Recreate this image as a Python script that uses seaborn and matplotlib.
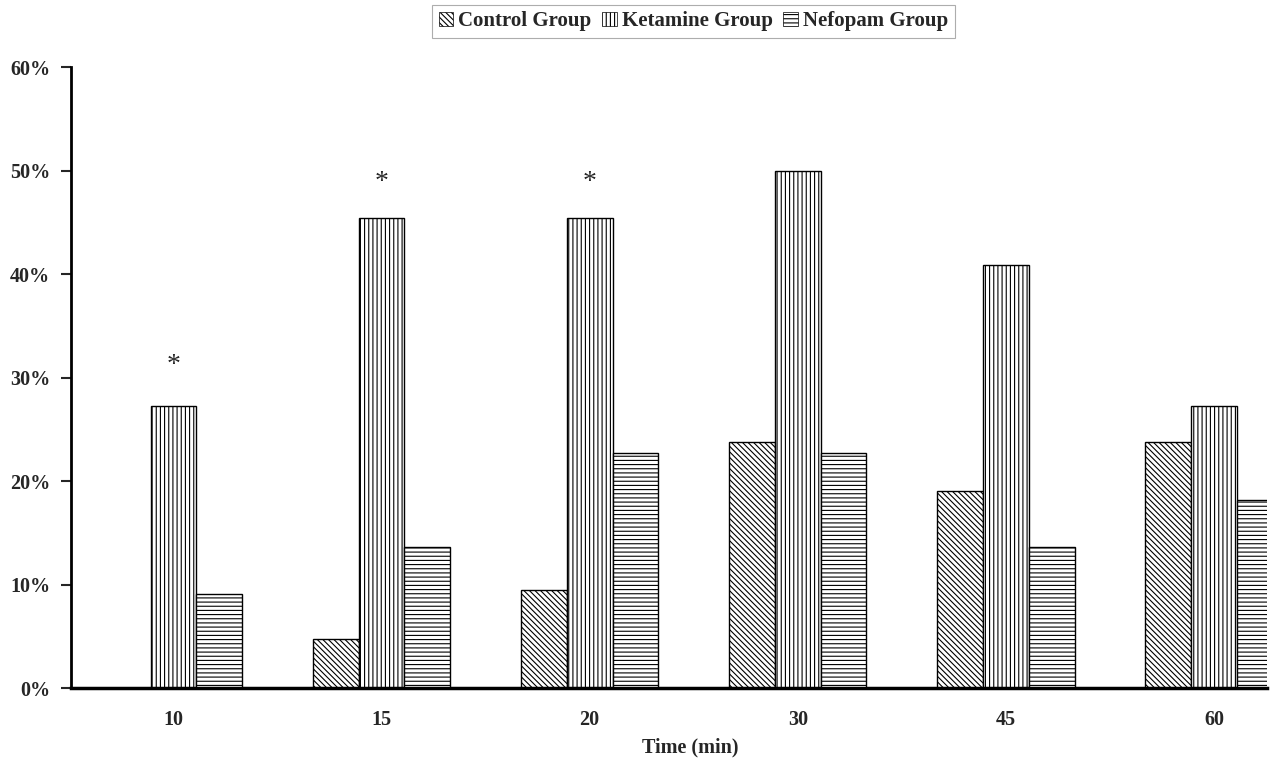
import pandas as pd
import seaborn as sns
import matplotlib.pyplot as plt
from matplotlib.ticker import PercentFormatter
from matplotlib.patches import Patch

# values (percent of patients)
times = ["10", "15", "20", "30", "45", "60"]
control = [0.0, 4.76, 9.52, 23.81, 19.05, 23.81]
ketamine = [27.27, 45.45, 45.45, 50.0, 40.91, 27.27]
nefopam = [9.09, 13.64, 22.73, 22.73, 13.64, 18.18]
groups = ["Control Group", "Ketamine Group", "Nefopam Group"]

# significance marks over the ketamine bars
star_times = ["10", "15", "20"]
star_heights = [31.2, 48.8, 48.8]

df = pd.DataFrame({
    "time": times * 3,
    "value": control + ketamine + nefopam,
    "group": [g for g in groups for _ in times],
})

sns.set_style("white")
plt.rcParams["font.family"] = ["Liberation Serif", "DejaVu Serif"]
plt.rcParams["font.weight"] = "bold"
plt.rcParams["hatch.linewidth"] = 0.8

fig = plt.figure(figsize=(12.77, 7.62), dpi=100)
ax = fig.add_axes([0.0556, 0.097, 0.9366, 0.815])

sns.barplot(data=df, x="time", y="value", hue="group", order=times,
            hue_order=groups, palette=["white"] * 3, width=0.66,
            edgecolor="black", linewidth=1.0, ax=ax, legend=False)

hatches = ["\\\\\\\\\\\\", "||||", "----"]
for cont, h in zip(ax.containers, hatches):
    for bar in cont:
        bar.set_hatch(h)
        bar.set_facecolor("white")
        bar.set_edgecolor("black")

for t, y in zip(star_times, star_heights):
    ax.text(times.index(t), y, "*", ha="center", va="center",
            fontsize=20, fontweight="normal")

ax.set_ylim(0, 60)
ax.set_xlim(-0.4925, 5.255)
ax.set_yticks(range(0, 61, 10))
ax.yaxis.set_major_formatter(PercentFormatter(decimals=0))
ax.tick_params(axis="y", left=True, length=7, width=1.5, labelsize=14.5, pad=8)
ax.tick_params(axis="x", bottom=False, labelsize=14.5, pad=12)
for lab in ax.get_xticklabels() + ax.get_yticklabels():
    lab.set_fontweight("bold")
ax.set_ylabel("")
ax.set_xlabel("Time (min)", fontsize=14.5, fontweight="bold")
ax.xaxis.set_label_coords(0.518, -0.08)

sns.despine(ax=ax)
ax.spines["left"].set_linewidth(2)
ax.spines["bottom"].set_linewidth(2.5)
ax.spines["left"].set_color("black")
ax.spines["bottom"].set_color("black")

handles = [Patch(facecolor="white", edgecolor="black", hatch=h, linewidth=0.5)
           for h in hatches]
leg = fig.legend(handles, groups, loc="center", bbox_to_anchor=(0.543, 0.972),
                 ncol=3, frameon=True, fancybox=False, fontsize=15,
                 handlelength=0.7, handleheight=0.7, handletextpad=0.25,
                 columnspacing=0.5, borderpad=0.3)
leg.get_frame().set_edgecolor("#999999")
leg.get_frame().set_linewidth(0.8)
for txt in leg.get_texts():
    txt.set_fontweight("bold")

fig.savefig("out.png", dpi=100)
